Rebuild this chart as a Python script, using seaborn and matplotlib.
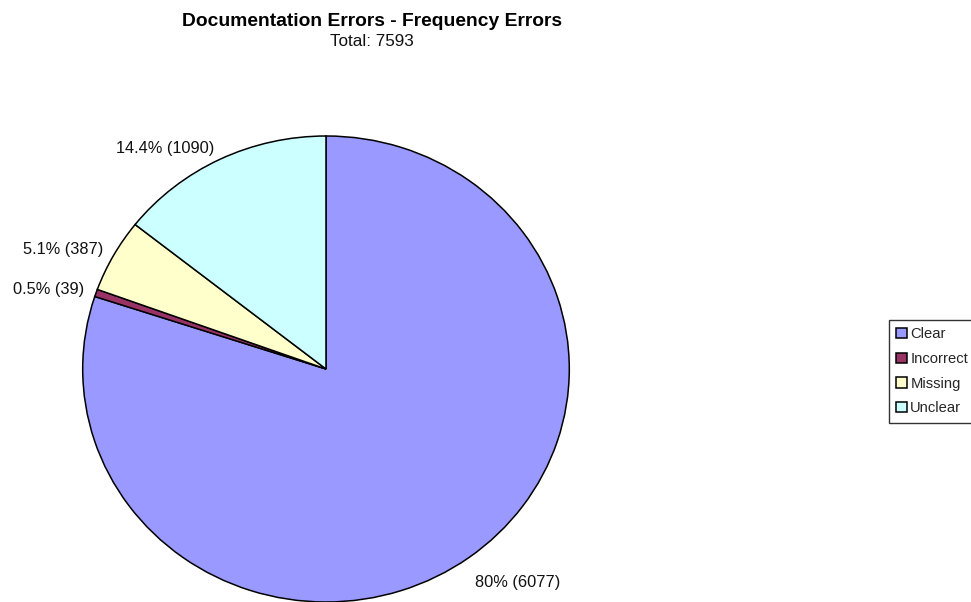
import matplotlib
matplotlib.use("Agg")
import matplotlib.pyplot as plt
import numpy as np
import seaborn as sns

# Error categories and their counts
categories = ["Clear", "Incorrect", "Missing", "Unclear"]
counts = [6077, 39, 387, 1090]
pct_labels = ["80%", "0.5%", "5.1%", "14.4%"]
colors = ["#9999FF", "#993366", "#FFFFCC", "#CCFFFF"]

title = "Documentation Errors - Frequency Errors"
subtitle = f"Total: {sum(counts)}"

sns.set_theme(style="white")
plt.rcParams["font.family"] = ["Liberation Sans", "DejaVu Sans"]

W, H = 971, 602
fig = plt.figure(figsize=(W / 100, H / 100), dpi=100)
fig.patch.set_facecolor("white")

# Pie area (slightly wider than tall)
left, right, top, bottom = 82.7, 569.3, 136, 602
ax = fig.add_axes([left / W, 1 - bottom / H, (right - left) / W, (bottom - top) / H])

wedges, _ = ax.pie(
    counts,
    colors=colors,
    startangle=90,
    counterclock=False,
    wedgeprops=dict(edgecolor="black", linewidth=1.1),
)
ax.set_aspect("auto")
ax.set_xlim(-1, 1)
ax.set_ylim(-1, 1)
ax.axis("off")

# Value labels placed just outside each wedge
for w, pct, n in zip(wedges, pct_labels, counts):
    mid = np.deg2rad((w.theta1 + w.theta2) / 2)
    below = np.sin(mid) < -0.5
    r = 1.075 if below else 1.05
    x, y = r * np.cos(mid), r * np.sin(mid)
    ha = "left" if x > 0 else "right"
    va = "top" if below else "center"
    ax.annotate(f"{pct} ({n})", xy=(x, y), xytext=(-3 if below else 0, -2 if below else 0),
                textcoords="offset points", ha=ha, va=va, fontsize=11.8, color="#111111")

fig.text(372 / W, 1 - 22 / H, title, ha="center", va="center",
         fontsize=13.9, fontweight="bold", color="black")
fig.text(372 / W, 1 - 42 / H, subtitle, ha="center", va="center",
         fontsize=12.3, color="#111111")

leg = fig.legend(
    wedges, categories,
    loc="upper left", bbox_to_anchor=(889 / W, 1 - 320 / H),
    frameon=True, fancybox=False, shadow=False,
    fontsize=10.6, handlelength=0.7, handleheight=0.7,
    handletextpad=0.25, labelspacing=0.72, borderpad=0.5,
    borderaxespad=0,
)
leg.get_frame().set_edgecolor("black")
leg.get_frame().set_linewidth(1.0)

fig.savefig("out.png", dpi=100, facecolor="white")
